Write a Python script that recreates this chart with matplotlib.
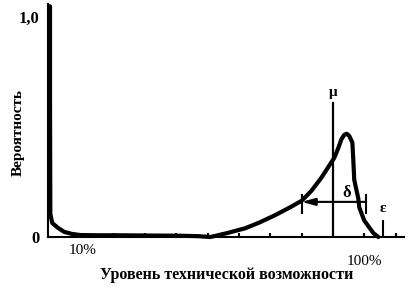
import matplotlib
matplotlib.use('Agg')
import matplotlib.pyplot as plt
import numpy as np

# Кривая распределения (уровень, %; вероятность)
level = [-0.4, -0.4, -0.3, 0.3, 2.2, 4.2, 6.7, 9.3, 15, 22, 30, 41, 47, 50.8,
         56.2, 62, 66.8, 71.6, 76.4, 80.0, 83.1, 86.3, 88.8, 90.4, 91.7, 92.7,
         93.6, 94.4, 95.2, 96.2, 96.5, 96.8, 98.1, 98.4, 100, 102.9, 104.5]
prob = [1.05, 0.6, 0.105, 0.064, 0.041, 0.023, 0.014, 0.009, 0.008, 0.008, 0.007,
        0.006, 0.004, 0.0, 0.018, 0.04, 0.068, 0.1, 0.136, 0.165, 0.21, 0.27,
        0.325, 0.36, 0.405, 0.445, 0.465, 0.47, 0.46, 0.43, 0.35, 0.26, 0.175,
        0.135, 0.075, 0.018, 0.0]

mu = 90.0
mu_top = 0.61
delta_left = 80.0
delta_right = 100.6
delta_y = 0.16
epsilon = 106.0
epsilon_top = 0.075

xtick_pos = list(range(10, 111, 10))
ytick_pos = np.round(np.arange(0, 1.01, 0.1), 1)

plt.rcParams['font.family'] = ['Liberation Serif', 'DejaVu Serif']

fig = plt.figure(figsize=(4.08, 2.93), dpi=100)
ax = fig.add_axes([0.118, 0.191, 0.873, 0.795])

# основная кривая
ax.plot(level, prob, color='black', lw=3.0, solid_capstyle='round',
        solid_joinstyle='round', zorder=3, clip_on=False)

# линия mu
ax.plot([mu, mu], [0, mu_top], color='black', lw=1.6)
ax.text(mu, mu_top + 0.02, 'μ', ha='center', va='bottom', fontsize=11,
        fontweight='bold')

# интервал delta
ax.annotate('', xy=(delta_left, delta_y), xytext=(delta_right, delta_y),
            arrowprops=dict(arrowstyle='-|>,head_length=0.8,head_width=0.22',
                            color='black', lw=1.5, shrinkA=0, shrinkB=0))
for xb in (delta_left, delta_right):
    ax.plot([xb, xb], [delta_y - 0.05, delta_y + 0.03], color='black', lw=1.5)
ax.text(94.5, 0.2, 'δ', ha='center', va='center', fontsize=12,
        fontweight='bold')

# линия epsilon
ax.plot([epsilon, epsilon], [0, epsilon_top], color='black', lw=1.5)
ax.text(epsilon, 0.13, 'ε', ha='center', va='center', fontsize=11,
        fontweight='bold')

ax.set_xlim(-1, 112.8)
ax.set_ylim(0, 1.06)

for s in ['top', 'right']:
    ax.spines[s].set_visible(False)
for s in ['left', 'bottom']:
    ax.spines[s].set_linewidth(1.5)

ax.set_xticks(xtick_pos)
ax.set_xticklabels([])
ax.set_yticks(ytick_pos)
ax.set_yticklabels(['0'] + [''] * 9 + ['1,0'], fontsize=12, fontweight='bold')
ax.tick_params(axis='both', direction='in', length=3, width=1.5)
ax.tick_params(axis='y', pad=6)

tr = ax.get_xaxis_transform()
ax.text(10, -0.056, '10%', transform=tr, ha='center', va='center', fontsize=11)
ax.text(100, -0.107, '100%', transform=tr, ha='center', va='center', fontsize=11)

fig.text(18 / 408, 1 - 133 / 293, 'Вероятность', rotation=90, ha='center',
         va='center', fontsize=11, fontweight='bold')
fig.text(227 / 408, 1 - 275 / 293, 'Уровень технической возможности',
         ha='center', va='center', fontsize=11.5, fontweight='bold')

fig.savefig('out.png', dpi=100)
plt.close(fig)
